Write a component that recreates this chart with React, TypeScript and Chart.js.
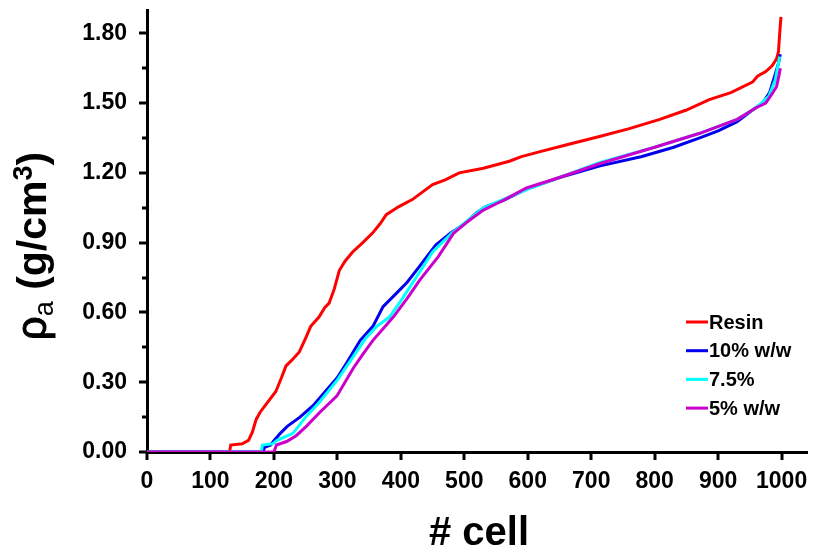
import React, { useEffect, useRef } from 'react';
import { Chart, registerables } from 'chart.js';

Chart.register(...registerables);

const seriesLabels = ['Resin', '10% w/w', '7.5%', '5% w/w'];
const seriesColors = ['#FF0000', '#0000EE', '#00FFFF', '#CC00CC'];

const resinX = [0, 130, 132, 150, 160, 166, 172, 178, 189, 203, 212, 219, 230, 240, 250, 258, 271, 280, 287, 295, 303, 312, 324, 340, 355, 367, 377, 397, 418, 450, 470, 492, 530, 571, 590, 618, 660, 713, 760, 808, 850, 886, 920, 954, 962, 975, 985, 992, 995, 997, 999];
const resinY = [0, 0, 0.03, 0.035, 0.05, 0.085, 0.14, 0.17, 0.21, 0.26, 0.32, 0.37, 0.40, 0.43, 0.49, 0.54, 0.58, 0.62, 0.64, 0.70, 0.78, 0.82, 0.86, 0.90, 0.94, 0.98, 1.02, 1.055, 1.085, 1.15, 1.17, 1.20, 1.22, 1.25, 1.27, 1.29, 1.32, 1.356, 1.39, 1.43, 1.47, 1.515, 1.545, 1.59, 1.615, 1.635, 1.66, 1.69, 1.72, 1.80, 1.87];

const w10X = [0, 183, 185, 195, 199, 210, 221, 241, 262, 284, 300, 315, 336, 356, 372, 394, 410, 430, 441, 455, 478, 500, 520, 534, 560, 598, 650, 714, 780, 830, 871, 900, 930, 954, 970, 981, 989, 995, 998];
const w10Y = [0, 0, 0.02, 0.03, 0.045, 0.08, 0.11, 0.15, 0.20, 0.27, 0.32, 0.385, 0.48, 0.54, 0.625, 0.685, 0.73, 0.80, 0.84, 0.89, 0.94, 0.98, 1.03, 1.055, 1.08, 1.13, 1.18, 1.23, 1.27, 1.31, 1.35, 1.38, 1.42, 1.47, 1.50, 1.545, 1.615, 1.67, 1.71];

const w75X = [0, 180, 182, 198, 205, 230, 250, 272, 300, 325, 345, 362, 382, 400, 430, 450, 480, 530, 600, 714, 800, 871, 930, 960, 980, 990, 997];
const w75Y = [0, 0, 0.03, 0.035, 0.05, 0.08, 0.15, 0.215, 0.31, 0.41, 0.49, 0.54, 0.58, 0.65, 0.775, 0.86, 0.94, 1.05, 1.13, 1.245, 1.31, 1.37, 1.43, 1.48, 1.53, 1.60, 1.70];

const w5X = [0, 200, 204, 220, 235, 251, 272, 299, 312, 325, 340, 356, 372, 388, 410, 430, 459, 483, 505, 530, 560, 598, 650, 714, 800, 871, 930, 960, 975, 985, 992, 996, 998];
const w5Y = [0, 0, 0.03, 0.045, 0.07, 0.11, 0.17, 0.24, 0.30, 0.36, 0.42, 0.48, 0.53, 0.58, 0.66, 0.74, 0.84, 0.94, 0.99, 1.04, 1.08, 1.135, 1.18, 1.24, 1.31, 1.37, 1.43, 1.48, 1.50, 1.54, 1.57, 1.62, 1.65];

const xTickValues = [0, 100, 200, 300, 400, 500, 600, 700, 800, 900, 1000];
const yTickValues = [0, 0.3, 0.6, 0.9, 1.2, 1.5, 1.8];
const yMinorTickValues = [0.15, 0.45, 0.75, 1.05, 1.35, 1.65];

const xTitle = '# cell';

const FONT = "Arial, 'Liberation Sans', sans-serif";

function pts(xs: number[], ys: number[]) {
  return xs.map((x, i) => ({ x, y: ys[i] }));
}

function zeroPad(s: any) {
  s.paddingTop = 0;
  s.paddingBottom = 0;
  s.paddingLeft = 0;
  s.paddingRight = 0;
}

const decorPlugin = {
  id: 'decor',
  afterDraw(chart: any) {
    const ctx = chart.ctx as CanvasRenderingContext2D;
    const xs = chart.scales.x;
    const ys = chart.scales.y;
    const area = chart.chartArea;
    ctx.save();
    ctx.strokeStyle = '#000';
    ctx.lineWidth = 3;
    ctx.lineCap = 'butt';
    xTickValues.forEach((v) => {
      const px = Math.round(xs.getPixelForValue(v));
      ctx.beginPath();
      ctx.moveTo(px, area.bottom);
      ctx.lineTo(px, area.bottom + 8);
      ctx.stroke();
    });
    yTickValues.forEach((v) => {
      const py = Math.round(ys.getPixelForValue(v));
      ctx.beginPath();
      ctx.moveTo(area.left, py);
      ctx.lineTo(area.left - 8, py);
      ctx.stroke();
    });
    yMinorTickValues.forEach((v) => {
      const py = Math.round(ys.getPixelForValue(v));
      ctx.beginPath();
      ctx.moveTo(area.left, py);
      ctx.lineTo(area.left - 5, py);
      ctx.stroke();
    });

    ctx.fillStyle = '#000';
    ctx.font = `bold 40px ${FONT}`;
    ctx.textAlign = 'center';
    ctx.textBaseline = 'alphabetic';
    ctx.fillText(xTitle, (area.left + area.right) / 2 + 2, 545);

    const parts = [
      { t: 'ρ', font: `normal 42px ${FONT}`, dy: 0 },
      { t: 'a', font: `normal 27px ${FONT}`, dy: 7 },
      { t: ' (g/cm', font: `bold 41px ${FONT}`, dy: 0 },
      { t: '3', font: `bold 27px ${FONT}`, dy: -14 },
      { t: ')', font: `bold 41px ${FONT}`, dy: 0 },
    ];
    let total = 0;
    const widths = parts.map((p) => {
      ctx.font = p.font;
      const w = ctx.measureText(p.t).width;
      total += w;
      return w;
    });
    ctx.translate(46, 246);
    ctx.rotate(-Math.PI / 2);
    ctx.textAlign = 'left';
    let cx = -total / 2;
    parts.forEach((p, i) => {
      ctx.font = p.font;
      ctx.fillText(p.t, cx, p.dy);
      if (i === 0) {
        ctx.lineWidth = 1;
        ctx.strokeStyle = '#000';
        ctx.strokeText(p.t, cx, p.dy);
      }
      cx += widths[i];
    });
    ctx.restore();

    ctx.save();
    chart.data.datasets.forEach((ds: any, i: number) => {
      const y = 322 + i * 28.7;
      ctx.strokeStyle = ds.borderColor;
      ctx.lineWidth = 3;
      ctx.beginPath();
      ctx.moveTo(686, y);
      ctx.lineTo(708, y);
      ctx.stroke();
      ctx.fillStyle = '#000';
      ctx.font = `bold 20px ${FONT}`;
      ctx.textAlign = 'left';
      ctx.textBaseline = 'middle';
      ctx.fillText(ds.label, 709, y + 1);
    });
    ctx.restore();
  },
};

export default function App() {
  const ref = useRef<HTMLCanvasElement | null>(null);
  useEffect(() => {
    if (!ref.current) return;
    const series = [
      pts(resinX, resinY),
      pts(w10X, w10Y),
      pts(w75X, w75Y),
      pts(w5X, w5Y),
    ];
    const orders = [3, 2, 1, 0];
    const chart = new Chart(ref.current, {
      type: 'line',
      data: {
        datasets: series.map((d, i) => ({
          label: seriesLabels[i],
          data: d,
          borderColor: seriesColors[i],
          backgroundColor: seriesColors[i],
          borderWidth: 3,
          pointRadius: 0,
          tension: 0,
          fill: false,
          order: orders[i],
        })),
      },
      options: {
        responsive: false,
        animation: false,
        events: [],
        layout: { padding: { left: 0, right: 8, top: 10, bottom: 0 } },
        plugins: { legend: { display: false }, tooltip: { enabled: false } },
        scales: {
          x: {
            type: 'linear',
            min: 0,
            max: 1040,
            afterFit: (s: any) => { s.height = 103; zeroPad(s); },
            afterBuildTicks: (s: any) => { s.ticks = xTickValues.map((v) => ({ value: v })); },
            grid: { display: false, drawTicks: false },
            border: { display: true, color: '#000', width: 3 },
            ticks: {
              padding: 16,
              color: '#000',
              font: { family: FONT, size: 23, weight: 'bold' },
              maxRotation: 0,
              autoSkip: false,
              callback: (v: any) => String(v),
            },
          },
          y: {
            type: 'linear',
            min: 0,
            max: 1.9,
            afterFit: (s: any) => { s.width = 147; zeroPad(s); },
            afterBuildTicks: (s: any) => { s.ticks = yTickValues.map((v) => ({ value: v })); },
            grid: { display: false, drawTicks: false },
            border: { display: true, color: '#000', width: 3 },
            ticks: {
              padding: 20,
              color: '#000',
              font: { family: FONT, size: 23, weight: 'bold' },
              autoSkip: false,
              callback: (v: any) => Number(v).toFixed(2),
            },
          },
        },
      } as any,
      plugins: [decorPlugin],
    });
    return () => chart.destroy();
  }, []);
  return (
    <canvas
      ref={ref}
      width={815}
      height={555}
      style={{ position: 'absolute', left: 0, top: 0, width: 815, height: 555 }}
    />
  );
}
